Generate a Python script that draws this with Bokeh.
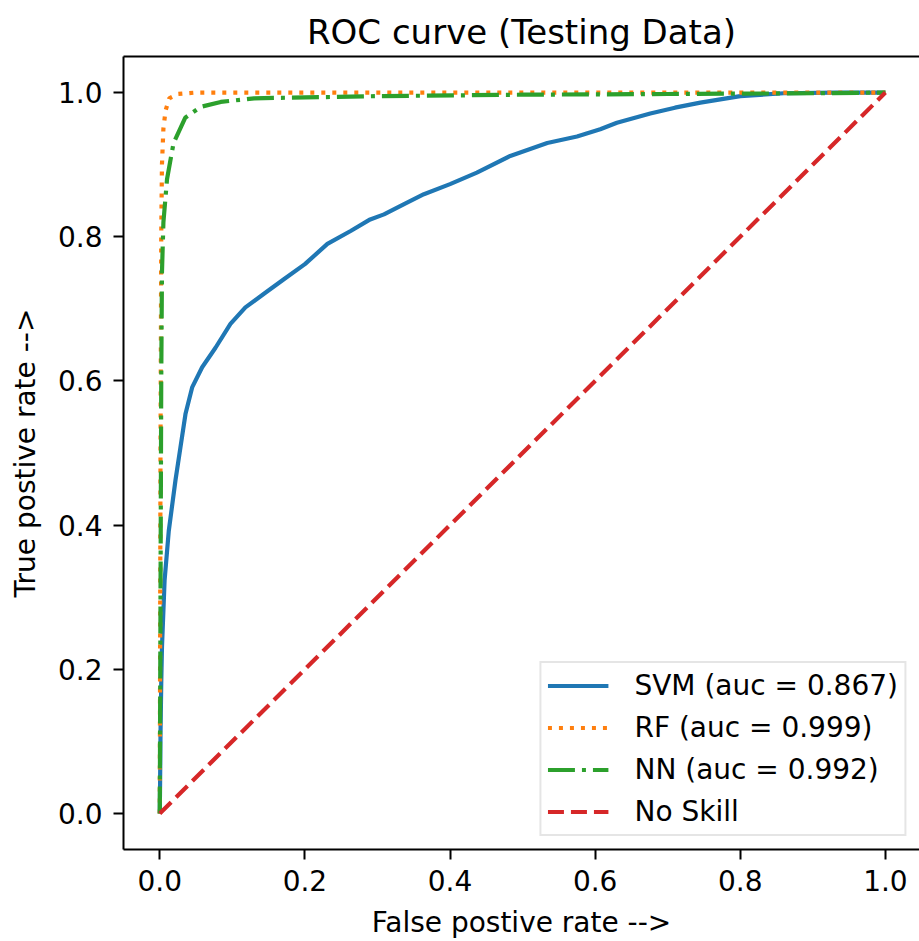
from bokeh.plotting import figure
from bokeh.models import Range1d, FixedTicker, PrintfTickFormatter, LinearAxis, Legend, LegendItem
from bokeh.embed import file_html
from bokeh.resources import INLINE

# ---- data ----
svm_fpr = [0.0, 0.0005, 0.001, 0.002, 0.003, 0.0066, 0.0124, 0.0216, 0.0285, 0.0354, 0.0446,
           0.0584, 0.0768, 0.0974, 0.118, 0.145, 0.171, 0.2, 0.231, 0.263, 0.29, 0.309, 0.336,
           0.364, 0.40, 0.437, 0.483, 0.534, 0.575, 0.607, 0.630, 0.676, 0.71, 0.745, 0.80,
           0.86, 0.93, 1.0]
svm_tpr = [0.0, 0.05, 0.11, 0.18, 0.23, 0.323, 0.392, 0.462, 0.508, 0.554, 0.591,
           0.619, 0.646, 0.679, 0.702, 0.722, 0.741, 0.762, 0.79, 0.808, 0.824, 0.831, 0.845,
           0.859, 0.873, 0.889, 0.912, 0.930, 0.939, 0.949, 0.958, 0.971, 0.979, 0.986, 0.995,
           0.999, 1.0, 1.0]

rf_fpr = [0.0, 0.001, 0.002, 0.003, 0.005, 0.008, 0.013, 0.025, 0.05, 1.0]
rf_tpr = [0.0, 0.5, 0.8, 0.9, 0.95, 0.975, 0.992, 0.998, 1.0, 1.0]

nn_fpr = [0.0, 0.001, 0.002, 0.003, 0.005, 0.01, 0.019, 0.035, 0.056, 0.084, 0.13, 0.3, 0.5, 0.7, 0.9, 1.0]
nn_tpr = [0.0, 0.3, 0.6, 0.75, 0.82, 0.88, 0.93, 0.965, 0.98, 0.987, 0.992, 0.995, 0.997, 0.998, 0.999, 1.0]

skill_x = [0.0, 1.0]
skill_y = [0.0, 1.0]

labels = ["SVM (auc = 0.867)", "RF (auc = 0.999)", "NN (auc = 0.992)", "No Skill"]
ticks = [0.0, 0.2, 0.4, 0.6, 0.8, 1.0]

FONT = "DejaVu Sans"

p = figure(width=919, height=941, output_backend="svg", toolbar_location=None,
           x_range=Range1d(-0.05, 1.047), y_range=Range1d(-0.05, 1.05),
           min_border_left=123, min_border_right=0, min_border_top=56, min_border_bottom=91)

p.outline_line_color = None
p.grid.visible = False
p.background_fill_color = "white"
p.border_fill_color = "white"

p.title.text = "ROC curve (Testing Data)"
p.title.align = "center"
p.title.text_font = FONT
p.title.text_font_size = "34px"
p.title.text_font_style = "normal"
p.title.text_color = "#000000"

for ax in (p.xaxis[0], p.yaxis[0]):
    ax.ticker = FixedTicker(ticks=ticks)
    ax.formatter = PrintfTickFormatter(format="%.1f")
    ax.major_label_text_font = FONT
    ax.major_label_text_font_size = "28px"
    ax.major_label_text_color = "#000000"
    ax.axis_label_text_font = FONT
    ax.axis_label_text_font_size = "28px"
    ax.axis_label_text_font_style = "normal"
    ax.axis_label_text_color = "#000000"
    ax.axis_line_width = 2
    ax.axis_line_color = "#000000"
    ax.major_tick_line_width = 2
    ax.major_tick_line_color = "#000000"
    ax.major_tick_out = 10
    ax.major_tick_in = 0
    ax.minor_tick_line_color = None

p.xaxis.axis_label = "False postive rate -->"
p.yaxis.axis_label = "True postive rate -->"
p.xaxis.major_label_standoff = 10
p.yaxis.major_label_standoff = 11
p.xaxis.axis_label_standoff = 12
p.yaxis.axis_label_standoff = 13

top = LinearAxis(ticker=FixedTicker(ticks=[]), axis_line_width=2, axis_line_color="#000000",
                 major_tick_line_color=None, minor_tick_line_color=None,
                 major_label_text_font_size="0px")
p.add_layout(top, "above")

r1 = p.line(svm_fpr, svm_tpr, line_color="#1f77b4", line_width=4.2)
r2 = p.line(rf_fpr, rf_tpr, line_color="#ff7f0e", line_width=4.2, line_dash="4 7")
r3 = p.line(nn_fpr, nn_tpr, line_color="#2ca02c", line_width=4.2, line_dash="27 7 4 7")
r4 = p.line(skill_x, skill_y, line_color="#d62728", line_width=4.2, line_dash="16 7")

legend = Legend(items=[LegendItem(label=labels[0], renderers=[r1]),
                       LegendItem(label=labels[1], renderers=[r2]),
                       LegendItem(label=labels[2], renderers=[r3]),
                       LegendItem(label=labels[3], renderers=[r4])],
                location="bottom_right")
legend.label_text_font = FONT
legend.label_text_font_size = "28px"
legend.label_text_color = "#000000"
legend.glyph_width = 61
legend.glyph_height = 29
legend.label_height = 29
legend.label_standoff = 26
legend.spacing = 9
legend.padding = 6
legend.margin = 13
legend.border_line_color = "#cccccc"
legend.border_line_width = 2
legend.background_fill_alpha = 0.8
p.add_layout(legend)

open("out.html", "w").write(file_html(p, INLINE))
